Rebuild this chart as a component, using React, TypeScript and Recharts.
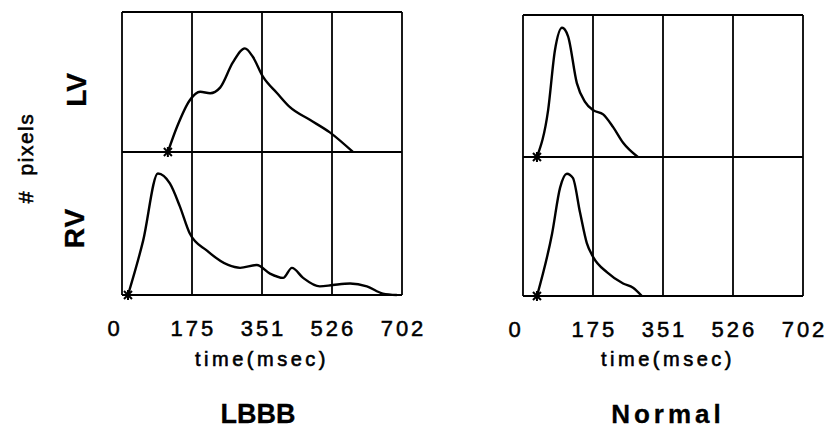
import { LineChart, Line, XAxis, YAxis, ReferenceLine } from "recharts";

// time axis (msec)
const timeTicks = [0, 175, 351, 526, 702];
const gridTimes = [0, 175.5, 351, 526.5, 702];

// LBBB
const lbbbLvTime = [115, 138, 170, 196, 221, 246, 278, 308, 328, 353, 389, 421, 471, 521, 579];
const lbbbLvPixels = [0, 18, 37, 43, 42, 46, 64, 74, 68, 54, 42, 32, 23, 14, 0];
const lbbbRvTime = [15, 53, 90, 120, 145, 170, 213, 266, 296, 338, 371, 404, 426, 454, 496, 529, 572, 614, 654, 689];
const lbbbRvPixels = [0, 38, 85, 78, 62, 43, 31, 21, 19, 21, 15, 12, 19, 12, 6, 7, 8, 6, 1, 0];

// Normal
const normalLvTime = [35, 63, 80, 98, 113, 135, 155, 176, 201, 226, 251, 288];
const normalLvPixels = [0, 33, 75, 91, 85, 52, 39, 33, 30, 21, 10, 0];
const normalRvTime = [35, 73, 93, 110, 125, 143, 160, 176, 211, 251, 276, 298];
const normalRvPixels = [0, 45, 78, 88, 85, 60, 38, 28, 17, 9, 6, 0];

const FONT = '"Liberation Sans", Arial, Helvetica, sans-serif';
const INK = "#000";
const M = 6; // vertical margin so border lines aren't clipped
const MX = 30; // side margin, room for the end tick labels
const PLOT_W = 280;
const AXIS_H = 52;

const toRows = (t: number[], v: number[]) => t.map((time, i) => ({ time, pixels: v[i] }));

const renderStart = (props: any) => {
  const { cx, cy, index } = props;
  if (index !== 0) return <g key={`d${index}`} />;
  return (
    <g key="start" stroke={INK} strokeWidth={2}>
      <line x1={cx - 4} y1={cy - 4} x2={cx + 4} y2={cy + 4} />
      <line x1={cx - 4} y1={cy + 4} x2={cx + 4} y2={cy - 4} />
      <line x1={cx} y1={cy - 5} x2={cx} y2={cy + 5} />
    </g>
  );
};

const TimeTick = (props: any) => {
  const { x, y, payload } = props;
  // the "0" sits a little left of the frame in the original
  const shift = payload.value === 0 ? -7 : 1.5;
  return (
    <text
      x={x + shift}
      y={y}
      dy={41}
      textAnchor="middle"
      fontFamily={FONT}
      fontSize={22}
      letterSpacing={3}
      fill={INK}
      stroke={INK}
      strokeWidth={0.5}
    >
      {payload.value}
    </text>
  );
};

function Frame() {
  return (
    <>
      {gridTimes.map((t) => (
        <ReferenceLine key={`x${t}`} x={t} stroke={INK} strokeWidth={1.8} ifOverflow="visible" />
      ))}
      <ReferenceLine y={0} stroke={INK} strokeWidth={1.8} ifOverflow="visible" />
      <ReferenceLine y={100} stroke={INK} strokeWidth={1.8} ifOverflow="visible" />
    </>
  );
}

interface PanelProps {
  left: number;
  top: number;
  mid: number;
  bottom: number;
  lv: { time: number; pixels: number }[];
  rv: { time: number; pixels: number }[];
}

function Panel({ left, top, mid, bottom, lv, rv }: PanelProps) {
  const topH = mid - top;
  const botH = bottom - mid;
  return (
    <>
      <div style={{ position: "absolute", left: left - MX, top: top - M }}>
        <LineChart
          width={PLOT_W + 2 * MX}
          height={topH + 2 * M}
          data={lv}
          margin={{ top: M, right: MX, bottom: M, left: MX }}
        >
          <XAxis dataKey="time" type="number" domain={[0, 702]} hide />
          <YAxis type="number" domain={[0, 100]} hide />
          {Frame()}
          <Line
            type="monotone"
            dataKey="pixels"
            stroke={INK}
            strokeWidth={2.4}
            dot={renderStart}
            activeDot={false}
            isAnimationActive={false}
          />
        </LineChart>
      </div>
      <div style={{ position: "absolute", left: left - MX, top: mid - M }}>
        <LineChart
          width={PLOT_W + 2 * MX}
          height={botH + M + AXIS_H}
          data={rv}
          margin={{ top: M, right: MX, bottom: 0, left: MX }}
        >
          <XAxis
            dataKey="time"
            type="number"
            domain={[0, 702]}
            ticks={timeTicks}
            height={AXIS_H}
            axisLine={false}
            tickLine={false}
            tickSize={0}
            tickMargin={0}
            tick={<TimeTick />}
            interval={0}
          />
          <YAxis type="number" domain={[0, 100]} hide />
          {Frame()}
          <Line
            type="monotone"
            dataKey="pixels"
            stroke={INK}
            strokeWidth={2.4}
            dot={renderStart}
            activeDot={false}
            isAnimationActive={false}
          />
        </LineChart>
      </div>
    </>
  );
}

const label = (
  text: string,
  x: number,
  y: number,
  size: number,
  bold: boolean,
  spacing: number,
  rotate = false
) => (
  <div
    style={{
      position: "absolute",
      left: x,
      top: y,
      transform: `translate(-50%, -50%)${rotate ? " rotate(-90deg)" : ""}`,
      fontFamily: FONT,
      fontSize: size,
      fontWeight: bold ? 700 : 400,
      letterSpacing: spacing,
      whiteSpace: "pre",
      lineHeight: 1,
      color: INK,
      WebkitTextStroke: bold ? "0.3px #000" : "0.6px #000",
    }}
  >
    {text}
  </div>
);

export default function App() {
  return (
    <div
      style={{
        position: "absolute",
        left: 0,
        top: 0,
        width: 832,
        height: 429,
        background: "#fff",
        overflow: "hidden",
      }}
    >
      <Panel left={122} top={12} mid={152} bottom={295} lv={toRows(lbbbLvTime, lbbbLvPixels)} rv={toRows(lbbbRvTime, lbbbRvPixels)} />
      <Panel left={523} top={15} mid={157} bottom={296} lv={toRows(normalLvTime, normalLvPixels)} rv={toRows(normalRvTime, normalRvPixels)} />

      {label("#  pixels", 25, 158, 21, false, 1.5, true)}
      {label("LV", 77, 90, 28, true, 0, true)}
      {label("RV", 75, 228, 28, true, 1, true)}

      {label("time(msec)", 262, 359, 20, false, 3.5)}
      {label("time(msec)", 668, 359, 20, false, 3.5)}

      {label("LBBB", 258, 414, 27, true, 0)}
      {label("Normal", 668, 414, 26, true, 4)}
    </div>
  );
}
